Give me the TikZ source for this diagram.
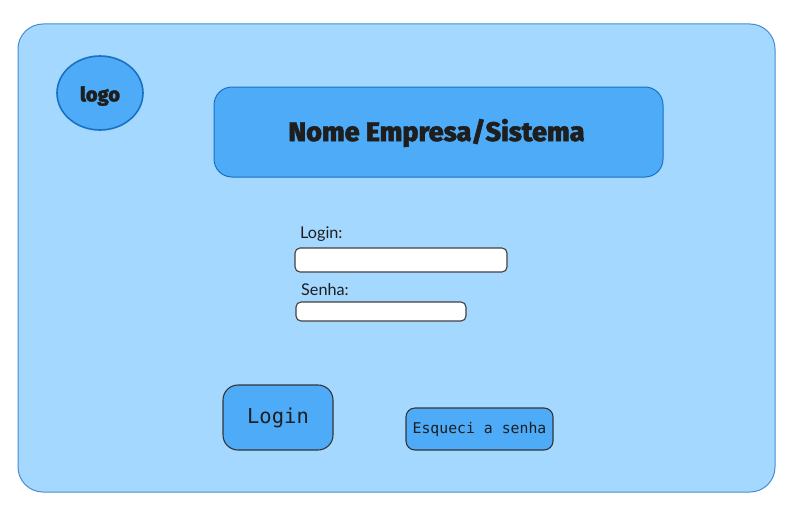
\documentclass[tikz,border=0pt]{standalone}
\usepackage{fontspec}
\usepackage{tikz}
\usetikzlibrary{shapes.geometric}
\setmainfont{Lato}
\newfontfamily\titlefont{Fira Sans}[UprightFont=* ExtraBold,FakeBold=1.6]
\newfontfamily\monofont{DejaVu Sans Mono}
\definecolor{pagefill}{HTML}{A5D8FF}
\definecolor{boxfill}{HTML}{4DABF7}
\definecolor{bluestroke}{HTML}{1971C2}
\definecolor{inkstroke}{HTML}{1E1E1E}
\tikzset{
  box/.style={draw, rectangle, inner sep=0pt, anchor=center},
  bluebox/.style={box, fill=boxfill, draw=bluestroke, line width=1pt, text=inkstroke},
  field/.style={box, fill=white, draw=inkstroke!85, line width=1.1pt, rounded corners=5pt},
  button/.style={box, fill=boxfill, draw=inkstroke!90, line width=1.1pt, text=inkstroke},
  fieldlabel/.style={anchor=base west, inner sep=0pt, text=inkstroke, font=\fontsize{16.2}{16}\selectfont}
}
\begin{document}
\begin{tikzpicture}[x=1pt,y=-1pt]
    \useasboundingbox (0,0) rectangle (791,519);
    \fill[white] (0,0) rectangle (791,519);
    \node[box, fill=pagefill, draw=bluestroke!80, line width=1pt, rounded corners=25pt,
          minimum width=757pt, minimum height=468pt] (page) at (396.5,258) {};
    \node[ellipse, inner sep=0pt, fill=boxfill, draw=bluestroke, line width=1.6pt,
          minimum width=86pt, minimum height=74pt, text=inkstroke,
          font=\titlefont\fontsize{20}{20}\selectfont] (logo) at (100,93) {\raisebox{-3pt}[\height][\depth]{logo}};
    \node[bluebox, rounded corners=18pt, minimum width=449pt, minimum height=90pt,
          font=\titlefont\fontsize{27}{27}\selectfont] (header) at (438.5,132) {\raisebox{-1pt}[\height][\depth]{Nome Empresa/Sistema\kern4pt}};
    \node[fieldlabel] (loginlabel) at (300,238) {Login:};
    \node[fieldlabel] (senhalabel) at (301,295) {Senha:};
    \node[field, minimum width=212pt, minimum height=24pt] (loginfield) at (401,260) {};
    \node[field, minimum width=170pt, minimum height=19pt] (senhafield) at (381,311.5) {};
    \node[button, rounded corners=15pt, minimum width=110pt, minimum height=65pt,
          font=\monofont\fontsize{20.5}{20}\selectfont] (loginbtn) at (278,417.5) {Login};
    \node[button, rounded corners=9pt, minimum width=147pt, minimum height=42pt,
          font=\monofont\fontsize{14.8}{15}\selectfont] (esqueci) at (479.5,429) {Esqueci a senha};
\end{tikzpicture}
\end{document}
